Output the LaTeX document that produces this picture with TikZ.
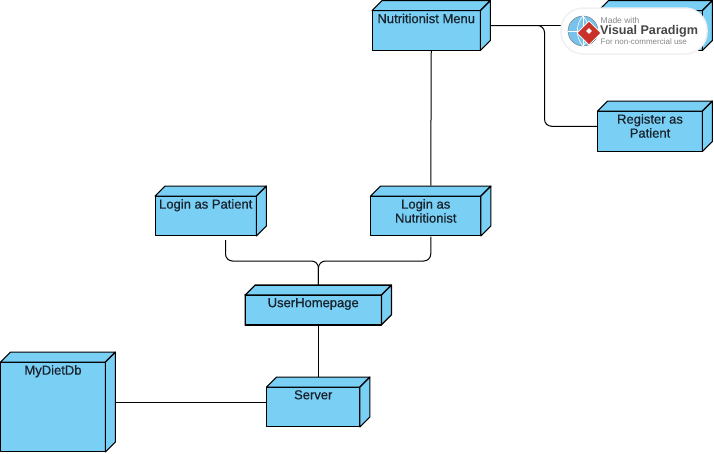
\documentclass[tikz,border=0pt]{standalone}
\usepackage{fontspec}
\setmainfont{Liberation Sans}
\newfontfamily\boxfont[FakeBold=0.7]{Liberation Sans}
\usetikzlibrary{shapes.geometric,positioning,calc}
\definecolor{nodeblue}{RGB}{122,207,245}
\definecolor{labeldark}{RGB}{25,35,45}
\definecolor{badgegray}{RGB}{135,135,135}
\definecolor{badgedark}{RGB}{70,70,70}
\definecolor{globeblue}{RGB}{120,195,235}
\definecolor{logored}{RGB}{200,50,40}
\tikzset{
  depnode/.style={rectangle,anchor=north west,inner sep=0pt,outer sep=0pt,
    path picture={
      \path (path picture bounding box.south west) ++(0.6,-0.6) coordinate (sw);
      \path (path picture bounding box.north east) ++(-0.6,0.6) coordinate (ne);
      \draw[fill=nodeblue,line join=round,line width=#1] (sw) rectangle ($(ne)+(-10,10)$);
      \draw[fill=nodeblue,line join=round,line width=#1] ($(sw|-ne)+(0,10)$) -- ($(sw|-ne)+(10,0)$)
        -- (ne) -- ($(ne)+(-10,10)$) -- cycle;
      \draw[fill=nodeblue,line join=round,line width=#1] (ne) -- ($(ne|-sw)+(0,-10)$)
        -- ($(ne|-sw)+(-10,0)$) -- ($(ne)+(-10,10)$) -- cycle;
    }},
  depnode/.default=1.1pt,
  boxtext/.style={anchor=north,align=center,inner sep=0pt,text=labeldark,
    font=\boxfont\fontsize{13}{14}\selectfont},
  conn/.style={black,line width=1pt},
  badgetext/.style={anchor=west,inner sep=0pt,text=badgegray}
}
\begin{document}
\begin{tikzpicture}[x=1pt,y=-1pt]
  \useasboundingbox (0,0) rectangle (714,453);
  % boxes
  \node[depnode,minimum width=119.5pt,minimum height=51pt] (menu) at (371.5,0) {};
  \node[depnode,minimum width=115pt,minimum height=51pt] (doctor) at (598,0) {};
  \node[depnode,minimum width=116pt,minimum height=51.5pt] (register) at (597,100.5) {};
  \node[depnode,minimum width=112.5pt,minimum height=51pt] (patient) at (154.5,185.5) {};
  \node[depnode,minimum width=121.5pt,minimum height=51pt] (nutri) at (370,185.5) {};
  \node[depnode=1.3pt,minimum width=147.5pt,minimum height=41pt] (home) at (244.5,284.5) {};
  \node[depnode,minimum width=104.5pt,minimum height=51pt] (server) at (266,376.5) {};
  \node[depnode,minimum width=116pt,minimum height=101pt] (mydiet) at (0,351.5) {};

  % labels
  \node[boxtext] (menutext) at ([shift={(-5,13.5)}]menu.north) {Nutritionist Menu};
  \node[boxtext] (registertext) at ([shift={(-5,13.5)}]register.north) {Register as\\Patient};
  \node[boxtext] (patienttext) at ([shift={(-5,13.5)}]patient.north) {Login as Patient};
  \node[boxtext] (nutritext) at ([shift={(-5,13.5)}]nutri.north) {Login as\\Nutritionist};
  \node[boxtext] (hometext) at ([shift={(-5,13.5)}]home.north) {UserHomepage};
  \node[boxtext] (servertext) at ([shift={(-5,13.5)}]server.north) {Server};
  \node[boxtext] (mydiettext) at ([shift={(-5,13.5)}]mydiet.north) {MyDietDb};

  % connectors
  \coordinate (menubranch) at (544.5,76);
  \coordinate (patientdrop) at (225.5,240);
  \coordinate (mergept) at (318.5,261);
  \draw[conn] (menu.south) -- (nutri.north);
  \draw[conn] (menu.east) -- (doctor.west);
  \draw[conn,rounded corners=7pt] (menu.east) -| (menubranch) |- (register.west);
  \draw[conn,rounded corners=7pt] (patientdrop) |- (mergept) -- (home.north);
  \draw[conn,rounded corners=7pt] (nutri.south) |- (mergept) -- (home.north);
  \draw[conn] (home.south) -- (server.north);
  \draw[conn] (mydiet.east) -- (server.west);

  % watermark
  \node[rectangle,rounded corners=22pt,fill=white,draw=black!6,line width=1.5pt,
        minimum width=146pt,minimum height=46pt,inner sep=0pt] (badge) at (634,31) {};
  \node[circle,fill=globeblue,draw=black!55,minimum size=30pt,inner sep=0pt] (globe) at (583,31) {};
  \draw[white,line width=0.6pt] (globe.west) -- (globe.east);
  \draw[white,line width=0.6pt] (globe.north) -- (globe.south);
  \draw[white,line width=0.6pt] (globe.north) to[bend left=40] (globe.south);
  \draw[white,line width=0.6pt] (globe.north) to[bend right=40] (globe.south);
  \node[diamond,fill=logored,draw=white,line width=0.6pt,minimum size=24pt,inner sep=0pt] (logomark) at (589,33) {};
  \node[rectangle,rotate=45,fill=white,minimum size=4pt,inner sep=0pt] (logohole) at (589,31) {};
  \node[badgetext,font=\fontsize{8.5}{10}\selectfont] (madewith) at (600.5,20) {Made with};
  \node[badgetext,text=badgedark,font=\fontsize{12.6}{15}\selectfont\bfseries] (vpname) at (600,31) {Visual Paradigm};
  \node[badgetext,font=\fontsize{8}{10}\selectfont] (vpuse) at (600.5,42) {For non-commercial use};
\end{tikzpicture}
\end{document}
